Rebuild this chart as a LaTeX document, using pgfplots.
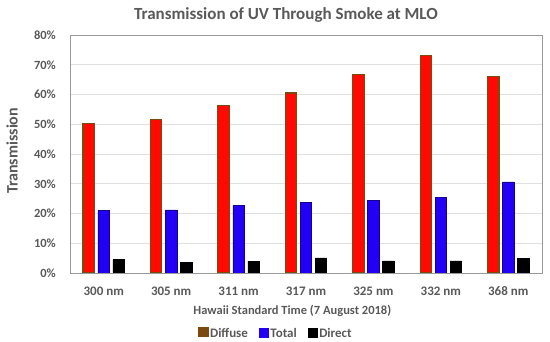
\documentclass[border=0pt]{standalone}
\usepackage{pgfplots}
\pgfplotsset{compat=1.18}
\usepackage{fontspec}
\setmainfont{Carlito}
\definecolor{txt}{HTML}{595959}
\definecolor{diffred}{HTML}{FF0A00}
\definecolor{diffbrown}{HTML}{7A4A10}
\definecolor{totblue}{HTML}{2200F5}
\definecolor{gridc}{HTML}{E0E0E0}
\definecolor{axc}{HTML}{9A9A9A}
\begin{document}
\begin{tikzpicture}
\useasboundingbox (-70pt,-69pt) rectangle (480pt,273pt);
\begin{axis}[
  scale only axis,
  width=472pt, height=238pt,
  ybar=3.5pt, bar width=11.5pt,
  xmin=-0.5, xmax=6.5,
  ymin=0, ymax=80,
  xtick=data,
  xticklabels={300 nm,305 nm,311 nm,317 nm,325 nm,332 nm,368 nm},
  ytick={0,10,...,80},
  yticklabel={\pgfmathprintnumber{\tick}\%},
  /pgf/number format/assume math mode=true,
  major tick length=0pt,
  ymajorgrids, grid style={draw=gridc, line width=0.8pt},
  axis line style={draw=axc, line width=0.8pt},
  yticklabel style={font=\bfseries\fontsize{12.5}{14}\selectfont, text=txt, anchor=east, inner sep=0pt, xshift=-14pt},
  xticklabel style={font=\bfseries\fontsize{13}{15}\selectfont, text=txt, anchor=base, inner sep=0pt, yshift=-23pt},
  title={Transmission of UV Through Smoke at MLO},
  title style={font=\bfseries\fontsize{17}{19}\selectfont, text=txt, at={(axis description cs:0.4576,1.0924)}, anchor=center, yshift=-8pt, inner sep=0pt},
  ylabel={Transmission},
  ylabel style={font=\bfseries\fontsize{16}{18}\selectfont, text=txt, at={(axis description cs:-0.1229,0.513)}, anchor=center, rotate=0, inner sep=0pt},
  xlabel={Hawaii Standard Time (7 August 2018)},
  xlabel style={font=\bfseries\fontsize{12.5}{14}\selectfont, text=txt, at={(axis description cs:0.471,0)}, anchor=base, yshift=-41.3pt, inner sep=0pt},
  legend style={at={(axis description cs:0.436,-0.2534)}, anchor=center, draw=none, fill=none,
    legend columns=3, font=\bfseries\fontsize{13}{15}\selectfont, text=txt,
    /tikz/every even column/.append style={column sep=10pt},
    nodes={inner sep=1.5pt}},
]
\addplot[fill=diffred, draw=diffbrown, line width=1.1pt,
  legend image code/.code={\fill[diffbrown] (0pt,-3.5pt) rectangle (9pt,5.5pt);}]
  coordinates {(0,50.4) (1,51.7) (2,56.3) (3,60.5) (4,66.7) (5,73.2) (6,66.1)};
\addplot[fill=totblue, draw=totblue!60!black, line width=0.5pt,
  legend image code/.code={\fill[totblue] (0pt,-3.5pt) rectangle (9pt,5.5pt);}]
  coordinates {(0,21.0) (1,21.2) (2,22.8) (3,23.7) (4,24.5) (5,25.3) (6,30.6)};
\addplot[fill=black, draw=black, line width=0.5pt,
  legend image code/.code={\fill[black] (0pt,-3.5pt) rectangle (9pt,5.5pt);}]
  coordinates {(0,4.6) (1,3.5) (2,4.0) (3,5.1) (4,4.1) (5,4.1) (6,4.8)};
\legend{Diffuse,Total,Direct}
\end{axis}
\end{tikzpicture}
\end{document}
